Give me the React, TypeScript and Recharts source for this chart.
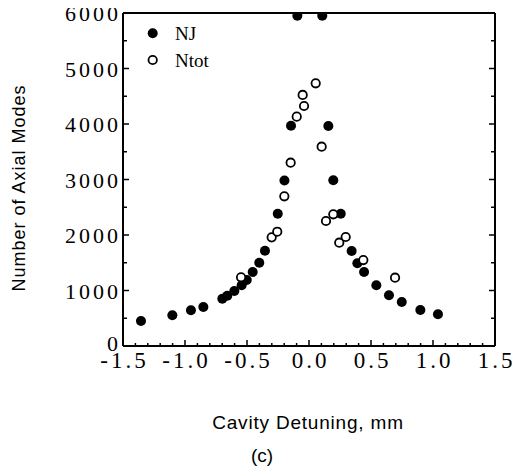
import React from "react";
import { ScatterChart, Scatter, XAxis, YAxis, Label } from "recharts";

const njX = [-1.355, -1.102, -0.952, -0.852, -0.699, -0.659, -0.602, -0.543, -0.502, -0.454, -0.401, -0.355, -0.252, -0.198, -0.145, -0.094, 0.107, 0.156, 0.196, 0.256, 0.344, 0.39, 0.444, 0.543, 0.645, 0.748, 0.898, 1.04];
const njY = [450, 553, 643, 703, 852, 906, 991, 1094, 1189, 1333, 1501, 1717, 2384, 2982, 3969, 5950, 5950, 3964, 2986, 2384, 1712, 1490, 1333, 1094, 913, 793, 649, 571];
const ntotX = [-0.548, -0.301, -0.256, -0.199, -0.148, -0.099, -0.051, -0.04, 0.054, 0.102, 0.137, 0.196, 0.244, 0.296, 0.438, 0.694];
const ntotY = [1238, 1958, 2059, 2697, 3303, 4132, 4523, 4324, 4733, 3591, 2252, 2373, 1861, 1964, 1549, 1231];

const xMajorTicks = [-1.5, -1.0, -0.5, 0.0, 0.5, 1.0, 1.5];
const xTickLabels = ["-1.5", "-1.0", "-0.5", "0.0", "0.5", "1.0", "1.5"];
const yMajorTicks = [0, 1000, 2000, 3000, 4000, 5000, 6000];
const xMinorStep = 0.1;
const yMinorStep = 500;

const xAllTicks: number[] = [];
for (let i = -15; i <= 15; i++) xAllTicks.push(Math.round(i * xMinorStep * 10) / 10);
const yAllTicks: number[] = [];
for (let v = 0; v <= 6000; v += yMinorStep) yAllTicks.push(v);

const njData = njX.map((x, i) => ({ x, y: njY[i] }));
const ntotData = ntotX.map((x, i) => ({ x, y: ntotY[i] }));

const SERIF = "'Liberation Serif', 'Times New Roman', serif";
const SANS = "'Liberation Sans', Arial, sans-serif";

const isXMajor = (v: number) => xMajorTicks.some((t) => Math.abs(t - v) < 1e-6);
const isYMajor = (v: number) => yMajorTicks.includes(v);

const XLS = 3;
const YLS = 3;

const BottomTick = (props: any) => {
  const { x, y, payload } = props;
  const major = isXMajor(payload.value);
  const idx = xMajorTicks.findIndex((t) => Math.abs(t - payload.value) < 1e-6);
  return (
    <g>
      <line x1={x} x2={x} y1={y} y2={y - (major ? 6 : 3)} stroke="#000" strokeWidth={1.5} />
      {major && (
        <text x={x + XLS / 2} y={y + 21.5} textAnchor="middle" fontFamily={SERIF} fontSize={23} letterSpacing={XLS} fill="#000">
          {xTickLabels[idx]}
        </text>
      )}
    </g>
  );
};

const TopTick = (props: any) => {
  const { x, y, payload } = props;
  const major = isXMajor(payload.value);
  return <line x1={x} x2={x} y1={y} y2={y + (major ? 6 : 3)} stroke="#000" strokeWidth={1.5} />;
};

const LeftTick = (props: any) => {
  const { x, y, payload } = props;
  const major = isYMajor(payload.value);
  const dy = payload.value === 0 ? 5 : 8;
  return (
    <g>
      <line x1={x} x2={x + (major ? 6 : 4)} y1={y} y2={y} stroke="#000" strokeWidth={1.5} />
      {major && (
        <text x={x - 5 + YLS} y={y + dy} textAnchor="end" fontFamily={SERIF} fontSize={22} letterSpacing={YLS} fill="#000">
          {String(payload.value)}
        </text>
      )}
    </g>
  );
};

const RightTick = (props: any) => {
  const { x, y, payload } = props;
  const major = isYMajor(payload.value);
  return <line x1={x} x2={x - (major ? 6 : 4)} y1={y} y2={y} stroke="#000" strokeWidth={1.5} />;
};

const FilledDot = (props: any) => <circle cx={props.cx} cy={props.cy} r={5} fill="#000" />;
const OpenDot = (props: any) => (
  <circle cx={props.cx} cy={props.cy} r={4.2} fill="#fff" stroke="#000" strokeWidth={1.8} />
);

const XTitle = () => (
  <g>
    <text x={308} y={422} textAnchor="middle" dominantBaseline="central" fontFamily={SANS} fontSize={19} letterSpacing={0.8} fill="#000">
      Cavity Detuning, mm
    </text>
    <text x={262} y={455} textAnchor="middle" dominantBaseline="central" fontFamily={SANS} fontSize={19} fill="#000">
      (c)
    </text>
  </g>
);

const YTitle = () => (
  <text
    x={19}
    y={188}
    transform="rotate(-90, 19, 188)"
    textAnchor="middle"
    dominantBaseline="central"
    fontFamily={SANS}
    fontSize={18}
    letterSpacing={1}
    fill="#000"
  >
    Number of Axial Modes
  </text>
);

const LegendBox = () => (
  <g>
    <circle cx={152.7} cy={33.3} r={5} fill="#000" />
    <text x={175} y={33.3} dominantBaseline="central" fontFamily={SERIF} fontSize={19} fill="#000">
      NJ
    </text>
    <circle cx={152.7} cy={60} r={4.2} fill="#fff" stroke="#000" strokeWidth={1.8} />
    <text x={175} y={60} dominantBaseline="central" fontFamily={SERIF} fontSize={19} fill="#000">
      Ntot
    </text>
  </g>
);

export default function App() {
  return (
    <div style={{ width: 521, height: 467, margin: "-8px 0 0 -8px" }}>
      <ScatterChart width={521} height={467} margin={{ top: 12, right: 25, bottom: 0, left: 0 }}>
        <XAxis
          dataKey="x"
          type="number"
          domain={[-1.5, 1.5]}
          ticks={xAllTicks}
          interval={0}
          allowDataOverflow
          height={121}
          tickSize={0}
          tickMargin={0}
          tickLine={false}
          axisLine={{ stroke: "#000", strokeWidth: 2 }}
          tick={(p: any) => <BottomTick {...p} />}
        >
          <Label content={() => <XTitle />} />
        </XAxis>
        <XAxis
          xAxisId="top"
          orientation="top"
          type="number"
          domain={[-1.5, 1.5]}
          ticks={xAllTicks}
          interval={0}
          allowDataOverflow
          height={1}
          tickSize={0}
          tickMargin={0}
          tickLine={false}
          axisLine={{ stroke: "#000", strokeWidth: 2 }}
          tick={(p: any) => <TopTick {...p} />}
        >
          <Label content={() => <LegendBox />} />
        </XAxis>
        <YAxis
          dataKey="y"
          type="number"
          domain={[0, 6000]}
          ticks={yAllTicks}
          interval={0}
          allowDataOverflow
          width={123}
          tickSize={0}
          tickMargin={0}
          tickLine={false}
          axisLine={{ stroke: "#000", strokeWidth: 2 }}
          tick={(p: any) => <LeftTick {...p} />}
        >
          <Label content={() => <YTitle />} />
        </YAxis>
        <YAxis
          yAxisId="right"
          orientation="right"
          type="number"
          domain={[0, 6000]}
          ticks={yAllTicks}
          interval={0}
          allowDataOverflow
          width={1}
          tickSize={0}
          tickMargin={0}
          tickLine={false}
          axisLine={{ stroke: "#000", strokeWidth: 2 }}
          tick={(p: any) => <RightTick {...p} />}
        />
        <Scatter data={njData} shape={(p: any) => <FilledDot {...p} />} isAnimationActive={false} />
        <Scatter data={ntotData} shape={(p: any) => <OpenDot {...p} />} isAnimationActive={false} />
      </ScatterChart>
    </div>
  );
}
